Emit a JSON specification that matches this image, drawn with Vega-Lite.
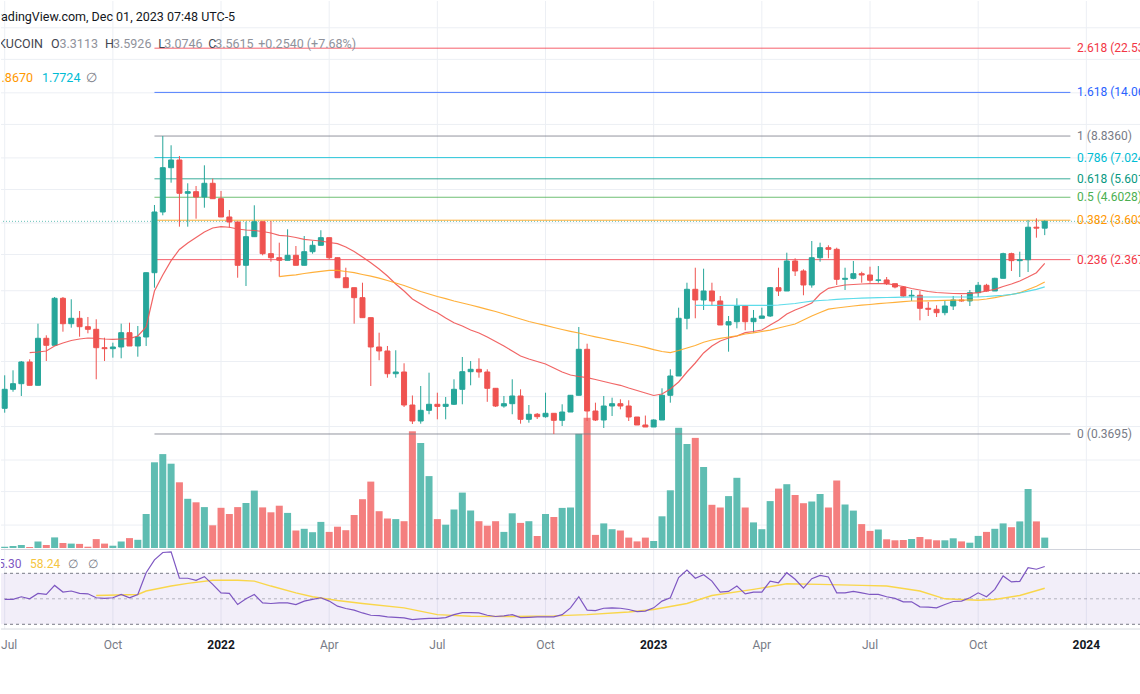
{
"$schema":"https://vega.github.io/schema/vega-lite/v6.json",
"width":1140,"height":628,"padding":0,"autosize":{"type":"pad"},"background":"#ffffff",
"config":{"view":{"stroke":null},"font":"Roboto"},
"datasets":{
"bars":[
{"d":"2021-07-05","o":0.4858,"h":0.6906,"l":0.4636,"c":0.5948,"v":13,"rsi":49.5},
{"d":"2021-07-12","o":0.5948,"h":0.7283,"l":0.5798,"c":0.6315,"v":20,"rsi":49.5},
{"d":"2021-07-19","o":0.6315,"h":0.8043,"l":0.5539,"c":0.7958,"v":30,"rsi":51.6},
{"d":"2021-07-26","o":0.7958,"h":0.819,"l":0.6207,"c":0.6207,"v":10,"rsi":50,"ma1":0.8787},
{"d":"2021-08-02","o":0.6207,"h":1.1967,"l":0.6207,"c":1.0243,"v":65,"rsi":54.2,"ma1":0.8852},
{"d":"2021-08-09","o":1.0243,"h":1.0576,"l":0.8043,"c":0.9507,"v":30,"rsi":53.4,"ma1":0.8947},
{"d":"2021-08-16","o":0.9507,"h":1.5906,"l":0.9507,"c":1.5687,"v":106,"rsi":60.5,"ma1":0.9437},
{"d":"2021-08-23","o":1.5687,"h":1.5906,"l":1.0989,"c":1.1967,"v":51,"rsi":55.3,"ma1":0.9743},
{"d":"2021-08-30","o":1.1967,"h":1.5521,"l":1.1467,"c":1.2676,"v":44,"rsi":56.1,"ma1":1.0006},
{"d":"2021-09-06","o":1.2676,"h":1.3701,"l":1.042,"c":1.1591,"v":41,"rsi":54.2,"ma1":1.0167},
{"d":"2021-09-13","o":1.1591,"h":1.2852,"l":1.0803,"c":1.1273,"v":13,"rsi":53.9,"ma1":1.0276},
{"d":"2021-09-20","o":1.1273,"h":1.2541,"l":0.6618,"c":0.9267,"v":89,"rsi":50.8,"ma1":1.0243,"rsima":52.6},
{"d":"2021-09-27","o":0.9267,"h":1.0309,"l":0.8043,"c":0.917,"v":44,"rsi":50.3,"ma1":1.0167},
{"d":"2021-10-04","o":0.917,"h":0.9775,"l":0.8331,"c":0.9337,"v":23,"rsi":50.8,"ma1":1.0134},
{"d":"2021-10-11","o":0.9337,"h":1.1967,"l":0.8278,"c":1.0873,"v":65,"rsi":53.4,"ma1":1.0167},
{"d":"2021-10-18","o":1.0873,"h":1.2096,"l":0.9437,"c":0.9437,"v":99,"rsi":50.8,"ma1":1.02},
{"d":"2021-10-25","o":0.9437,"h":1.1677,"l":0.842,"c":1.0386,"v":82,"rsi":53.4,"ma1":1.0497,"rsima":53.4},
{"d":"2021-11-01","o":1.0386,"h":2.0606,"l":0.9437,"c":2.0606,"v":340,"rsi":70.5,"ma1":1.1553,"rsima":56.1},
{"d":"2021-11-08","o":2.0606,"h":4.2385,"l":1.7561,"c":3.934,"v":857,"rsi":80.5,"ma1":1.6955},
{"d":"2021-11-15","o":3.934,"h":8.836,"l":3.798,"c":6.307,"v":939,"rsi":86.3,"ma1":2.0105},
{"d":"2021-11-22","o":6.307,"h":8.008,"l":5.376,"c":6.846,"v":843,"rsi":86.8,"ma1":2.3428,"rsima":60},
{"d":"2021-11-29","o":6.846,"h":7.144,"l":3.364,"c":4.802,"v":657,"rsi":66.1,"ma1":2.6386},
{"d":"2021-12-06","o":4.802,"h":5.341,"l":3.364,"c":4.884,"v":492,"rsi":66.1,"ma1":2.8274,"rsima":62.1},
{"d":"2021-12-13","o":4.884,"h":5.19,"l":3.663,"c":4.616,"v":457,"rsi":64.5,"ma1":2.998},
{"d":"2021-12-20","o":4.616,"h":6.47,"l":4.118,"c":5.341,"v":409,"rsi":67.4,"ma1":3.1791},
{"d":"2021-12-27","o":5.341,"h":5.61,"l":4.533,"c":4.533,"v":227,"rsi":61.3,"ma1":3.3175,"rsima":64.5},
{"d":"2022-01-03","o":4.533,"h":4.921,"l":3.73,"c":3.73,"v":402,"rsi":54.7,"ma1":3.364},
{"d":"2022-01-10","o":3.73,"h":4.019,"l":3.328,"c":3.536,"v":340,"rsi":54.2,"ma1":3.343},
{"d":"2022-01-17","o":3.536,"h":3.547,"l":1.953,"c":2.2295,"v":409,"rsi":45.5,"ma1":3.2824,"rsima":64.5},
{"d":"2022-01-24","o":2.2295,"h":3.547,"l":1.788,"c":3.024,"v":450,"rsi":50,"ma1":3.2475},
{"d":"2022-01-31","o":3.024,"h":4.225,"l":3.024,"c":3.547,"v":574,"rsi":53.4,"ma1":3.2303,"rsima":63.9},
{"d":"2022-02-07","o":3.547,"h":3.547,"l":2.48,"c":2.523,"v":406,"rsi":46.8,"ma1":3.196},
{"d":"2022-02-14","o":2.523,"h":3.574,"l":2.317,"c":2.417,"v":357,"rsi":46.3,"ma1":3.1454,"rsima":60},
{"d":"2022-02-21","o":2.417,"h":2.837,"l":1.974,"c":2.352,"v":423,"rsi":46.8,"ma1":3.069,"ma2":1.974},
{"d":"2022-02-28","o":2.352,"h":3.272,"l":2.352,"c":2.48,"v":351,"rsi":46.8,"ma1":3.046,"ma2":1.9955},
{"d":"2022-03-07","o":2.48,"h":2.738,"l":2.2295,"c":2.2295,"v":175,"rsi":45.5,"ma1":2.998,"ma2":2.0148,"rsima":54.7},
{"d":"2022-03-14","o":2.2295,"h":3.046,"l":2.2295,"c":2.577,"v":192,"rsi":48.2,"ma1":2.941,"ma2":2.043},
{"d":"2022-03-21","o":2.577,"h":2.888,"l":2.523,"c":2.759,"v":158,"rsi":49.5,"ma1":2.912,"ma2":2.0671,"rsima":51.6},
{"d":"2022-03-28","o":2.759,"h":3.238,"l":2.759,"c":2.992,"v":261,"rsi":50.8,"ma1":2.888,"ma2":2.0914},
{"d":"2022-04-04","o":2.992,"h":2.992,"l":2.376,"c":2.417,"v":161,"rsi":48.2,"ma1":2.843,"ma2":2.1136},
{"d":"2022-04-11","o":2.417,"h":2.417,"l":1.953,"c":1.953,"v":213,"rsi":44.2,"ma1":2.806,"ma2":2.1136,"rsima":48.7},
{"d":"2022-04-18","o":1.953,"h":2.173,"l":1.756,"c":1.756,"v":178,"rsi":42.4,"ma1":2.7094,"ma2":2.0869},
{"d":"2022-04-25","o":1.756,"h":1.756,"l":1.197,"c":1.579,"v":330,"rsi":41.1,"ma1":2.5825,"ma2":2.0606},
{"d":"2022-05-02","o":1.579,"h":1.852,"l":1.276,"c":1.276,"v":488,"rsi":38.9,"ma1":2.4355,"ma2":2.0213,"rsima":46.3},
{"d":"2022-05-09","o":1.276,"h":1.276,"l":0.6161,"c":0.9337,"v":664,"rsi":37.1,"ma1":2.292,"ma2":1.9848},
{"d":"2022-05-16","o":0.9337,"h":1.0873,"l":0.8104,"c":0.8947,"v":368,"rsi":36.8,"ma1":2.1433,"ma2":1.9452},
{"d":"2022-05-23","o":0.8947,"h":0.9437,"l":0.6732,"c":0.7024,"v":295,"rsi":35.8,"ma1":1.9892,"ma2":1.8962},
{"d":"2022-05-30","o":0.7024,"h":0.9016,"l":0.6732,"c":0.7153,"v":289,"rsi":35.5,"ma1":1.8267,"ma2":1.8463},
{"d":"2022-06-06","o":0.7153,"h":0.7848,"l":0.4926,"c":0.5032,"v":268,"rsi":35,"ma1":1.6955,"ma2":1.7979,"rsima":42.9},
{"d":"2022-06-13","o":0.5032,"h":0.557,"l":0.411,"c":0.4243,"v":1167,"rsi":33.7,"ma1":1.5571,"ma2":1.7411},
{"d":"2022-06-20","o":0.4243,"h":0.6161,"l":0.4124,"c":0.4755,"v":1050,"rsi":34.2,"ma1":1.4763,"ma2":1.6862},
{"d":"2022-06-27","o":0.4755,"h":0.71,"l":0.456,"c":0.5071,"v":719,"rsi":34.7,"ma1":1.3996,"ma2":1.6421},
{"d":"2022-07-04","o":0.5071,"h":0.5737,"l":0.4321,"c":0.4959,"v":289,"rsi":34.7,"ma1":1.3456,"ma2":1.5991,"rsima":37.6},
{"d":"2022-07-11","o":0.4959,"h":0.5481,"l":0.4321,"c":0.5071,"v":233,"rsi":35.3,"ma1":1.2716,"ma2":1.5622},
{"d":"2022-07-18","o":0.5071,"h":0.6618,"l":0.5032,"c":0.5948,"v":385,"rsi":37.6,"ma1":1.2096,"ma2":1.5243},
{"d":"2022-07-25","o":0.5948,"h":0.8393,"l":0.5071,"c":0.7176,"v":554,"rsi":39.2,"ma1":1.1677,"ma2":1.4921},
{"d":"2022-08-01","o":0.7176,"h":0.8043,"l":0.6207,"c":0.7361,"v":375,"rsi":39.2,"ma1":1.119,"ma2":1.4608,"rsima":36.3},
{"d":"2022-08-08","o":0.7361,"h":0.8278,"l":0.6732,"c":0.7153,"v":268,"rsi":38.9,"ma1":1.0838,"ma2":1.4271},
{"d":"2022-08-15","o":0.7153,"h":0.7361,"l":0.5206,"c":0.6012,"v":223,"rsi":37.1,"ma1":1.0386,"ma2":1.3951},
{"d":"2022-08-22","o":0.6012,"h":0.6012,"l":0.4926,"c":0.4979,"v":268,"rsi":36.1,"ma1":0.9903,"ma2":1.3627},
{"d":"2022-08-29","o":0.4979,"h":0.5539,"l":0.489,"c":0.5103,"v":161,"rsi":36.6,"ma1":0.9437,"ma2":1.327},
{"d":"2022-09-05","o":0.5103,"h":0.6618,"l":0.456,"c":0.5539,"v":347,"rsi":37.6,"ma1":0.8947,"ma2":1.2922,"rsima":36.1},
{"d":"2022-09-12","o":0.5539,"h":0.5948,"l":0.4124,"c":0.4321,"v":251,"rsi":35.3,"ma1":0.8483,"ma2":1.2582},
{"d":"2022-09-19","o":0.4321,"h":0.5032,"l":0.4168,"c":0.456,"v":268,"rsi":35.5,"ma1":0.8216,"ma2":1.2251},
{"d":"2022-09-26","o":0.456,"h":0.4621,"l":0.4335,"c":0.4443,"v":120,"rsi":35.8,"ma1":0.7999,"ma2":1.1993},
{"d":"2022-10-03","o":0.4443,"h":0.5737,"l":0.4395,"c":0.4606,"v":340,"rsi":35.8,"ma1":0.779,"ma2":1.1746},
{"d":"2022-10-10","o":0.4606,"h":0.4606,"l":0.3695,"c":0.4275,"v":310,"rsi":35.8,"ma1":0.7464,"ma2":1.1492,"rsima":36.6},
{"d":"2022-10-17","o":0.4275,"h":0.5071,"l":0.4024,"c":0.467,"v":401,"rsi":37.6,"ma1":0.7153,"ma2":1.1251},
{"d":"2022-10-24","o":0.467,"h":0.5581,"l":0.467,"c":0.5581,"v":405,"rsi":42.9,"ma1":0.6928,"ma2":1.1036},
{"d":"2022-10-31","o":0.5581,"h":1.1553,"l":0.5581,"c":0.9111,"v":1142,"rsi":51.6,"ma1":0.6819,"ma2":1.0838},
{"d":"2022-11-07","o":0.9111,"h":0.9671,"l":0.4243,"c":0.472,"v":1303,"rsi":41.1,"ma1":0.6732,"ma2":1.0609,"rsima":37.6},
{"d":"2022-11-14","o":0.472,"h":0.5158,"l":0.4243,"c":0.4289,"v":131,"rsi":40.8,"ma1":0.6605,"ma2":1.0408},
{"d":"2022-11-21","o":0.4289,"h":0.5539,"l":0.3939,"c":0.4979,"v":246,"rsi":42.6,"ma1":0.6464,"ma2":1.0222},
{"d":"2022-11-28","o":0.4979,"h":0.544,"l":0.4476,"c":0.5103,"v":188,"rsi":42.9,"ma1":0.6329,"ma2":1.0027},
{"d":"2022-12-05","o":0.5103,"h":0.5348,"l":0.4806,"c":0.4979,"v":175,"rsi":42.6,"ma1":0.6208,"ma2":0.9848},
{"d":"2022-12-12","o":0.4979,"h":0.5292,"l":0.4243,"c":0.4428,"v":104,"rsi":41.6,"ma1":0.6031,"ma2":0.9661,"rsima":39.7},
{"d":"2022-12-19","o":0.4428,"h":0.4428,"l":0.4067,"c":0.4067,"v":66,"rsi":40,"ma1":0.5873,"ma2":0.9489},
{"d":"2022-12-26","o":0.4067,"h":0.4497,"l":0.3981,"c":0.3981,"v":104,"rsi":40.3,"ma1":0.5719,"ma2":0.9306},
{"d":"2023-01-02","o":0.3981,"h":0.4321,"l":0.3981,"c":0.4289,"v":70,"rsi":42.9,"ma1":0.557,"ma2":0.9085,"rsima":41.6},
{"d":"2023-01-09","o":0.4289,"h":0.6012,"l":0.4289,"c":0.5581,"v":317,"rsi":48.2,"ma1":0.5658,"ma2":0.89},
{"d":"2023-01-16","o":0.5581,"h":0.7361,"l":0.5158,"c":0.6855,"v":577,"rsi":50.8,"ma1":0.5968,"ma2":0.8787},
{"d":"2023-01-23","o":0.6855,"h":1.4191,"l":0.6855,"c":1.2676,"v":1202,"rsi":66.6,"ma1":0.6431,"ma2":0.8994},
{"d":"2023-01-30","o":1.2676,"h":1.852,"l":1.1273,"c":1.7263,"v":1040,"rsi":72.6,"ma1":0.7153,"ma2":0.9238,"rsima":46.3},
{"d":"2023-02-06","o":1.7263,"h":2.173,"l":1.2676,"c":1.5407,"v":1101,"rsi":66.1,"ma1":0.7873,"ma2":0.9489,"ma3":1.456},
{"d":"2023-02-13","o":1.5407,"h":2.1503,"l":1.3847,"c":1.6955,"v":810,"rsi":68.9,"ma1":0.8759,"ma2":0.9818,"ma3":1.456},
{"d":"2023-02-20","o":1.6955,"h":1.852,"l":1.445,"c":1.5243,"v":432,"rsi":63.9,"ma1":0.9437,"ma2":1.0061,"ma3":1.456,"rsima":52.6},
{"d":"2023-02-27","o":1.5243,"h":1.6076,"l":1.1802,"c":1.1802,"v":405,"rsi":55.3,"ma1":0.9953,"ma2":1.0243,"ma3":1.456},
{"d":"2023-03-06","o":1.1802,"h":1.299,"l":0.8881,"c":1.2223,"v":519,"rsi":55.8,"ma1":1.0276,"ma2":1.0386,"ma3":1.456},
{"d":"2023-03-13","o":1.2223,"h":1.5687,"l":1.1394,"c":1.445,"v":702,"rsi":60,"ma1":1.0499,"ma2":1.052,"ma3":1.456},
{"d":"2023-03-20","o":1.445,"h":1.445,"l":1.1157,"c":1.2223,"v":405,"rsi":53.9,"ma1":1.0873,"ma2":1.0723,"ma3":1.456},
{"d":"2023-03-27","o":1.2223,"h":1.3847,"l":1.0873,"c":1.2676,"v":256,"rsi":55.3,"ma1":1.1013,"ma2":1.0862,"ma3":1.456,"rsima":57.4},
{"d":"2023-04-03","o":1.2676,"h":1.4191,"l":1.2676,"c":1.299,"v":188,"rsi":55.3,"ma1":1.119,"ma2":1.1013,"ma3":1.456},
{"d":"2023-04-10","o":1.299,"h":1.7692,"l":1.2852,"c":1.7561,"v":469,"rsi":63.9,"ma1":1.1802,"ma2":1.1167,"ma3":1.456},
{"d":"2023-04-17","o":1.7561,"h":2.173,"l":1.6076,"c":1.6955,"v":594,"rsi":62.6,"ma1":1.2405,"ma2":1.143,"ma3":1.4608},
{"d":"2023-04-24","o":1.6955,"h":2.55,"l":1.6955,"c":2.3339,"v":638,"rsi":70.5,"ma1":1.327,"ma2":1.1677,"ma3":1.4721,"rsima":61.8},
{"d":"2023-05-01","o":2.3339,"h":2.402,"l":1.9892,"c":2.0981,"v":530,"rsi":65.3,"ma1":1.3847,"ma2":1.1929,"ma3":1.4842},
{"d":"2023-05-08","o":2.0981,"h":2.1363,"l":1.62,"c":1.8073,"v":448,"rsi":58.4,"ma1":1.4344,"ma2":1.2444,"ma3":1.5034},
{"d":"2023-05-15","o":1.8073,"h":2.888,"l":1.7561,"c":2.417,"v":465,"rsi":65.8,"ma1":1.4921,"ma2":1.299,"ma3":1.5211},
{"d":"2023-05-22","o":2.417,"h":2.837,"l":2.317,"c":2.6894,"v":540,"rsi":68.4,"ma1":1.6421,"ma2":1.3484,"ma3":1.5324,"rsima":61.3},
{"d":"2023-05-29","o":2.6894,"h":2.759,"l":2.402,"c":2.6438,"v":405,"rsi":67.1,"ma1":1.7449,"ma2":1.3966,"ma3":1.5406},
{"d":"2023-06-05","o":2.6438,"h":2.6894,"l":1.8073,"c":1.9204,"v":675,"rsi":54.7,"ma1":1.7787,"ma2":1.4146,"ma3":1.5521},
{"d":"2023-06-12","o":1.9204,"h":2.173,"l":1.7137,"c":1.941,"v":435,"rsi":54.7,"ma1":1.8073,"ma2":1.4297,"ma3":1.5605},
{"d":"2023-06-19","o":1.941,"h":2.334,"l":1.92,"c":2.0386,"v":374,"rsi":55.8,"ma1":1.817,"ma2":1.445,"ma3":1.5655},
{"d":"2023-06-26","o":2.0386,"h":2.0822,"l":1.852,"c":2.0105,"v":239,"rsi":54.7,"ma1":1.8267,"ma2":1.4574,"ma3":1.5706,"rsima":60.5},
{"d":"2023-07-03","o":2.0105,"h":2.1965,"l":1.852,"c":1.901,"v":171,"rsi":53.4,"ma1":1.8326,"ma2":1.4684,"ma3":1.5756},
{"d":"2023-07-10","o":1.901,"h":2.2123,"l":1.852,"c":1.907,"v":185,"rsi":53.4,"ma1":1.8326,"ma2":1.4812,"ma3":1.5788},
{"d":"2023-07-17","o":1.907,"h":1.968,"l":1.8073,"c":1.8326,"v":87,"rsi":51.6,"ma1":1.8326,"ma2":1.4921,"ma3":1.5822,"rsima":60},
{"d":"2023-07-24","o":1.8326,"h":1.8326,"l":1.7449,"c":1.7692,"v":77,"rsi":50.3,"ma1":1.8073,"ma2":1.5018,"ma3":1.5839},
{"d":"2023-07-31","o":1.7692,"h":1.788,"l":1.5906,"c":1.6076,"v":80,"rsi":47.6,"ma1":1.7787,"ma2":1.513,"ma3":1.5873},
{"d":"2023-08-07","o":1.6076,"h":1.7137,"l":1.5243,"c":1.62,"v":90,"rsi":47.6,"ma1":1.7411,"ma2":1.5243,"ma3":1.5906},
{"d":"2023-08-14","o":1.62,"h":1.6955,"l":1.2405,"c":1.4101,"v":110,"rsi":43.7,"ma1":1.7137,"ma2":1.5243,"ma3":1.5906,"rsima":56.1},
{"d":"2023-08-21","o":1.4101,"h":1.5081,"l":1.299,"c":1.3951,"v":87,"rsi":43.4,"ma1":1.6862,"ma2":1.5276,"ma3":1.5906},
{"d":"2023-08-28","o":1.3951,"h":1.4559,"l":1.2852,"c":1.3456,"v":77,"rsi":42.9,"ma1":1.6686,"ma2":1.5308,"ma3":1.5906},
{"d":"2023-09-04","o":1.3456,"h":1.5243,"l":1.3087,"c":1.445,"v":77,"rsi":45.5,"ma1":1.6597,"ma2":1.5341,"ma3":1.5906,"rsima":50},
{"d":"2023-09-11","o":1.445,"h":1.6076,"l":1.3847,"c":1.5406,"v":97,"rsi":47.9,"ma1":1.6509,"ma2":1.5373,"ma3":1.5906},
{"d":"2023-09-18","o":1.5406,"h":1.6248,"l":1.513,"c":1.5243,"v":66,"rsi":48.2,"ma1":1.6474,"ma2":1.539,"ma3":1.5906},
{"d":"2023-09-25","o":1.5243,"h":1.7137,"l":1.445,"c":1.6651,"v":53,"rsi":50.8,"ma1":1.6544,"ma2":1.5406,"ma3":1.5906},
{"d":"2023-10-02","o":1.6651,"h":1.866,"l":1.5906,"c":1.8017,"v":121,"rsi":54.7,"ma1":1.6651,"ma2":1.5406,"ma3":1.5906,"rsima":48.9},
{"d":"2023-10-09","o":1.8017,"h":1.83,"l":1.683,"c":1.6955,"v":161,"rsi":51.6,"ma1":1.6955,"ma2":1.5571,"ma3":1.5991},
{"d":"2023-10-16","o":1.6955,"h":1.953,"l":1.6955,"c":1.941,"v":192,"rsi":57.4,"ma1":1.7263,"ma2":1.5788,"ma3":1.6111,"rsima":49.5},
{"d":"2023-10-23","o":1.941,"h":2.55,"l":1.941,"c":2.523,"v":246,"rsi":67.9,"ma1":1.7787,"ma2":1.6076,"ma3":1.62},
{"d":"2023-10-30","o":2.523,"h":2.55,"l":2.0981,"c":2.3428,"v":208,"rsi":63.2,"ma1":1.8267,"ma2":1.6335,"ma3":1.637},
{"d":"2023-11-06","o":2.3428,"h":2.577,"l":1.968,"c":2.3657,"v":266,"rsi":63.7,"ma1":1.886,"ma2":1.6651,"ma3":1.6597,"rsima":52.6},
{"d":"2023-11-13","o":2.3657,"h":3.6064,"l":2.0758,"c":3.345,"v":590,"rsi":74.5,"ma1":1.968,"ma2":1.7227,"ma3":1.6918},
{"d":"2023-11-20","o":3.345,"h":3.6786,"l":2.992,"c":3.3113,"v":266,"rsi":73.2,"ma1":2.0606,"ma2":1.7844,"ma3":1.7263},
{"d":"2023-11-27","o":3.3113,"h":3.5926,"l":3.0746,"c":3.5615,"v":104,"rsi":75.3,"ma1":2.2775,"ma2":1.867,"ma3":1.7724,"rsima":58.24}
],
"fibs":[
{"lvl":"0","p":0.3695,"t":"0 (0.3695)"},
{"lvl":"0.236","p":2.3676,"t":"0.236 (2.3676)"},
{"lvl":"0.382","p":3.6037,"t":"0.382 (3.6037)"},
{"lvl":"0.5","p":4.6028,"t":"0.5 (4.6028)"},
{"lvl":"0.618","p":5.6018,"t":"0.618 (5.6018)"},
{"lvl":"0.786","p":7.0242,"t":"0.786 (7.0242)"},
{"lvl":"1","p":8.836,"t":"1 (8.8360)"},
{"lvl":"1.618","p":14.0683,"t":"1.618 (14.0683)"},
{"lvl":"2.618","p":22.5348,"t":"2.618 (22.5348)"}
],
"xgrid":[{"d":"2021-07-05"},{"d":"2021-10-04"},{"d":"2022-01-03"},{"d":"2022-04-04"},{"d":"2022-07-04"},{"d":"2022-10-03"},{"d":"2023-01-02"},{"d":"2023-04-03"},{"d":"2023-07-03"},{"d":"2023-10-02"},{"d":"2024-01-01"}],
"months":[{"d":"2021-10-04","t":"Oct"},{"d":"2022-04-04","t":"Apr"},{"d":"2022-07-04","t":"Jul"},{"d":"2022-10-03","t":"Oct"},{"d":"2023-04-03","t":"Apr"},{"d":"2023-07-03","t":"Jul"},{"d":"2023-10-02","t":"Oct"}],
"years":[{"d":"2022-01-03","t":"2022"},{"d":"2023-01-02","t":"2023"},{"d":"2024-01-01","t":"2024"}],
"pgrid":[{"p":0.14},{"p":0.2},{"p":0.28},{"p":0.4},{"p":0.55},{"p":0.8},{"p":1.2},{"p":1.7},{"p":2.5},{"p":3.5},{"p":5},{"p":7},{"p":10},{"p":14},{"p":20},{"p":28}]
},
"layer":[
{"layer":[
 {"data":{"name":"xgrid"},"mark":{"type":"rule","color":"#eceff4","strokeWidth":1},
  "encoding":{"x":{"field":"d","type":"temporal","scale":{"type":"utc","padding":0,"domain":[{"year":2021,"month":7,"date":1,"hours":21,"minutes":20,"utc":true},{"year":2024,"month":2,"date":15,"hours":23,"minutes":46,"utc":true}]},"axis":null}}},
 {"data":{"name":"pgrid"},"mark":{"type":"rule","color":"#eceff4","strokeWidth":1},
  "encoding":{"y":{"field":"p","type":"quantitative","scale":{"type":"log","domain":[0.10851,37.25],"range":[548,0],"nice":false,"zero":false},"axis":null}}}
]},
{"data":{"name":"bars"},"mark":{"type":"bar","size":7},
 "encoding":{
  "x":{"field":"d","type":"temporal","scale":{"type":"utc","padding":0,"domain":[{"year":2021,"month":7,"date":1,"hours":21,"minutes":20,"utc":true},{"year":2024,"month":2,"date":15,"hours":23,"minutes":46,"utc":true}]},"axis":null},
  "y":{"field":"v","type":"quantitative","scale":{"domain":[0,5470],"range":[547,0],"nice":false,"zero":true},"axis":null},
  "color":{"condition":{"test":"datum.c >= datum.o","value":"#5fbdb2"},"value":"#f47f7f"}
 }},
{"layer":[
 {"data":{"name":"fibs"},"mark":{"type":"rule","strokeWidth":1,"opacity":0.8},
  "encoding":{
   "x":{"datum":{"year":2021,"month":11,"date":8,"utc":true},"type":"temporal","scale":{"type":"utc","padding":0,"domain":[{"year":2021,"month":7,"date":1,"hours":21,"minutes":20,"utc":true},{"year":2024,"month":2,"date":15,"hours":23,"minutes":46,"utc":true}]},"axis":null},
   "x2":{"datum":{"year":2023,"month":12,"date":18,"hours":14,"utc":true}},
   "y":{"field":"p","type":"quantitative","scale":{"type":"log","domain":[0.10851,37.25],"range":[548,0],"nice":false,"zero":false},"axis":null},
   "color":{"field":"lvl","type":"nominal","scale":{"domain":["0","0.236","0.382","0.5","0.618","0.786","1","1.618","2.618"],"range":["#787b86","#f23645","#ff9800","#4caf50","#089981","#00bcd4","#787b86","#2962ff","#f23645"]},"legend":null}
  }},
 {"data":{"values":[{}]},"mark":{"type":"rule","strokeWidth":1,"strokeDash":[1,2],"color":"#26a69a","opacity":0.7},
  "encoding":{"y":{"datum":3.5615,"type":"quantitative","scale":{"type":"log","domain":[0.10851,37.25],"range":[548,0],"nice":false,"zero":false},"axis":null}}},
 {"data":{"name":"bars"},"mark":{"type":"rule","strokeWidth":1},
  "encoding":{
   "x":{"field":"d","type":"temporal","scale":{"type":"utc","padding":0,"domain":[{"year":2021,"month":7,"date":1,"hours":21,"minutes":20,"utc":true},{"year":2024,"month":2,"date":15,"hours":23,"minutes":46,"utc":true}]},"axis":null},
   "y":{"field":"l","type":"quantitative","scale":{"type":"log","domain":[0.10851,37.25],"range":[548,0],"nice":false,"zero":false},"axis":null},
   "y2":{"field":"h"},
   "color":{"condition":{"test":"datum.c >= datum.o","value":"#26a69a"},"value":"#ef5350"}
  }},
 {"data":{"name":"bars"},"mark":{"type":"bar","size":5,"strokeWidth":1},
  "encoding":{
   "x":{"field":"d","type":"temporal","scale":{"type":"utc","padding":0,"domain":[{"year":2021,"month":7,"date":1,"hours":21,"minutes":20,"utc":true},{"year":2024,"month":2,"date":15,"hours":23,"minutes":46,"utc":true}]},"axis":null},
   "y":{"field":"o","type":"quantitative","scale":{"type":"log","domain":[0.10851,37.25],"range":[548,0],"nice":false,"zero":false},"axis":null},
   "y2":{"field":"c"},
   "color":{"condition":{"test":"datum.c >= datum.o","value":"#26a69a"},"value":"#ef5350"},
   "stroke":{"condition":{"test":"datum.c >= datum.o","value":"#26a69a"},"value":"#ef5350"}
  }},
 {"data":{"name":"bars"},"mark":{"type":"line","strokeWidth":1.2,"color":"#f05454","opacity":0.9,"invalid":"filter"},
  "encoding":{
   "x":{"field":"d","type":"temporal","scale":{"type":"utc","padding":0,"domain":[{"year":2021,"month":7,"date":1,"hours":21,"minutes":20,"utc":true},{"year":2024,"month":2,"date":15,"hours":23,"minutes":46,"utc":true}]},"axis":null},
   "y":{"field":"ma1","type":"quantitative","scale":{"type":"log","domain":[0.10851,37.25],"range":[548,0],"nice":false,"zero":false},"axis":null}}},
 {"data":{"name":"bars"},"mark":{"type":"line","strokeWidth":1.2,"color":"#ffa726","opacity":0.9,"invalid":"filter"},
  "encoding":{
   "x":{"field":"d","type":"temporal","scale":{"type":"utc","padding":0,"domain":[{"year":2021,"month":7,"date":1,"hours":21,"minutes":20,"utc":true},{"year":2024,"month":2,"date":15,"hours":23,"minutes":46,"utc":true}]},"axis":null},
   "y":{"field":"ma2","type":"quantitative","scale":{"type":"log","domain":[0.10851,37.25],"range":[548,0],"nice":false,"zero":false},"axis":null}}},
 {"data":{"name":"bars"},"mark":{"type":"line","strokeWidth":1.2,"color":"#4dd8e8","opacity":0.9,"invalid":"filter"},
  "encoding":{
   "x":{"field":"d","type":"temporal","scale":{"type":"utc","padding":0,"domain":[{"year":2021,"month":7,"date":1,"hours":21,"minutes":20,"utc":true},{"year":2024,"month":2,"date":15,"hours":23,"minutes":46,"utc":true}]},"axis":null},
   "y":{"field":"ma3","type":"quantitative","scale":{"type":"log","domain":[0.10851,37.25],"range":[548,0],"nice":false,"zero":false},"axis":null}}},
 {"data":{"name":"fibs"},"mark":{"type":"text","align":"left","baseline":"middle","fontSize":12,"clip":true},
  "encoding":{
   "x":{"datum":{"year":2023,"month":12,"date":24,"hours":6,"utc":true},"type":"temporal","scale":{"type":"utc","padding":0,"domain":[{"year":2021,"month":7,"date":1,"hours":21,"minutes":20,"utc":true},{"year":2024,"month":2,"date":15,"hours":23,"minutes":46,"utc":true}]},"axis":null},
   "y":{"field":"p","type":"quantitative","scale":{"type":"log","domain":[0.10851,37.25],"range":[548,0],"nice":false,"zero":false},"axis":null},
   "text":{"field":"t"},
   "color":{"field":"lvl","type":"nominal","scale":{"domain":["0","0.236","0.382","0.5","0.618","0.786","1","1.618","2.618"],"range":["#787b86","#f23645","#ff9800","#4caf50","#089981","#00bcd4","#787b86","#2962ff","#f23645"]},"legend":null}
  }},
 {"data":{"values":[{}]},"mark":{"type":"text","align":"right","baseline":"middle","fontSize":12.5,"color":"#131722","clip":true,"text":"TradingView.com, Dec 01, 2023 07:48 UTC-5"},
  "encoding":{"x":{"datum":{"year":2022,"month":1,"date":14,"hours":21,"minutes":20,"utc":true},"type":"temporal","axis":null},"y":{"datum":31.41,"type":"quantitative","axis":null}}},
 {"data":{"values":[{}]},"mark":{"type":"text","align":"right","baseline":"middle","fontSize":12.5,"color":"#434651","clip":true,"text":"KuCoin Token / TetherUS · 1W · KUCOIN"},
  "encoding":{"x":{"datum":{"year":2021,"month":8,"date":6,"hours":5,"minutes":30,"utc":true},"type":"temporal","axis":null},"y":{"datum":23.56,"type":"quantitative","axis":null}}},
 {"data":{"values":[{}]},"mark":{"type":"text","align":"left","baseline":"middle","fontSize":12.5,"color":"#434651","clip":true,"text":"O"},
  "encoding":{"x":{"datum":{"year":2021,"month":8,"date":12,"hours":23,"utc":true},"type":"temporal","axis":null},"y":{"datum":23.56,"type":"quantitative","axis":null}}},
 {"data":{"values":[{}]},"mark":{"type":"text","align":"left","baseline":"middle","fontSize":12.5,"color":"#8f929b","clip":true,"text":"3.3113"},
  "encoding":{"x":{"datum":{"year":2021,"month":8,"date":20,"hours":2,"minutes":40,"utc":true},"type":"temporal","axis":null},"y":{"datum":23.56,"type":"quantitative","axis":null}}},
 {"data":{"values":[{}]},"mark":{"type":"text","align":"left","baseline":"middle","fontSize":12.5,"color":"#434651","clip":true,"text":"H"},
  "encoding":{"x":{"datum":{"year":2021,"month":9,"date":27,"hours":9,"minutes":20,"utc":true},"type":"temporal","axis":null},"y":{"datum":23.56,"type":"quantitative","axis":null}}},
 {"data":{"values":[{}]},"mark":{"type":"text","align":"left","baseline":"middle","fontSize":12.5,"color":"#8f929b","clip":true,"text":"3.5926"},
  "encoding":{"x":{"datum":{"year":2021,"month":10,"date":4,"hours":2,"minutes":50,"utc":true},"type":"temporal","axis":null},"y":{"datum":23.56,"type":"quantitative","axis":null}}},
 {"data":{"values":[{}]},"mark":{"type":"text","align":"left","baseline":"middle","fontSize":12.5,"color":"#434651","clip":true,"text":"L"},
  "encoding":{"x":{"datum":{"year":2021,"month":11,"date":11,"hours":3,"minutes":20,"utc":true},"type":"temporal","axis":null},"y":{"datum":23.56,"type":"quantitative","axis":null}}},
 {"data":{"values":[{}]},"mark":{"type":"text","align":"left","baseline":"middle","fontSize":12.5,"color":"#8f929b","clip":true,"text":"3.0746"},
  "encoding":{"x":{"datum":{"year":2021,"month":11,"date":16,"hours":4,"minutes":30,"utc":true},"type":"temporal","axis":null},"y":{"datum":23.56,"type":"quantitative","axis":null}}},
 {"data":{"values":[{}]},"mark":{"type":"text","align":"left","baseline":"middle","fontSize":12.5,"color":"#434651","clip":true,"text":"C"},
  "encoding":{"x":{"datum":{"year":2021,"month":12,"date":23,"hours":5,"utc":true},"type":"temporal","axis":null},"y":{"datum":23.56,"type":"quantitative","axis":null}}},
 {"data":{"values":[{}]},"mark":{"type":"text","align":"left","baseline":"middle","fontSize":12.5,"color":"#8f929b","clip":true,"text":"3.5615"},
  "encoding":{"x":{"datum":{"year":2021,"month":12,"date":29,"hours":2,"minutes":10,"utc":true},"type":"temporal","axis":null},"y":{"datum":23.56,"type":"quantitative","axis":null}}},
 {"data":{"values":[{}]},"mark":{"type":"text","align":"left","baseline":"middle","fontSize":12.5,"color":"#8f929b","clip":true,"text":"+0.2540 (+7.68%)"},
  "encoding":{"x":{"datum":{"year":2022,"month":2,"date":3,"hours":6,"minutes":40,"utc":true},"type":"temporal","axis":null},"y":{"datum":23.56,"type":"quantitative","axis":null}}},
 {"data":{"values":[{}]},"mark":{"type":"text","align":"right","baseline":"middle","fontSize":12.5,"color":"#ff9800","clip":true,"text":"2.2775 1.8670"},
  "encoding":{"x":{"datum":{"year":2021,"month":7,"date":28,"hours":19,"utc":true},"type":"temporal","axis":null},"y":{"datum":16.4,"type":"quantitative","axis":null}}},
 {"data":{"values":[{}]},"mark":{"type":"text","align":"left","baseline":"middle","fontSize":12.5,"color":"#00bcd4","clip":true,"text":"1.7724"},
  "encoding":{"x":{"datum":{"year":2021,"month":8,"date":5,"hours":9,"utc":true},"type":"temporal","axis":null},"y":{"datum":16.4,"type":"quantitative","axis":null}}},
 {"data":{"values":[{}]},"mark":{"type":"text","align":"left","baseline":"middle","fontSize":12.5,"color":"#787b86","clip":true,"text":"∅"},
  "encoding":{"x":{"datum":{"year":2021,"month":9,"date":11,"hours":9,"utc":true},"type":"temporal","axis":null},"y":{"datum":16.4,"type":"quantitative","axis":null}}}
]},
{"layer":[
 {"data":{"values":[{}]},"mark":{"type":"rect","color":"#7e57c2","opacity":0.1},
  "encoding":{"y":{"datum":70,"type":"quantitative","scale":{"domain":[26.31,88.67],"range":[628,548.5],"nice":false,"zero":false},"axis":null},"y2":{"datum":30}}},
 {"data":{"values":[{"r":70},{"r":30}]},"mark":{"type":"rule","color":"#787b86","strokeDash":[3,3],"strokeWidth":1},
  "encoding":{"y":{"field":"r","type":"quantitative","scale":{"domain":[26.31,88.67],"range":[628,548.5],"nice":false,"zero":false},"axis":null}}},
 {"data":{"values":[{"r":50}]},"mark":{"type":"rule","color":"#787b86","strokeDash":[3,3],"strokeWidth":1,"opacity":0.5},
  "encoding":{"y":{"field":"r","type":"quantitative","scale":{"domain":[26.31,88.67],"range":[628,548.5],"nice":false,"zero":false},"axis":null}}},
 {"data":{"values":[{"r":88.67}]},"mark":{"type":"rule","color":"#d1d4dc","strokeWidth":1},
  "encoding":{"y":{"field":"r","type":"quantitative","scale":{"domain":[26.31,88.67],"range":[628,548.5],"nice":false,"zero":false},"axis":null}}},
 {"data":{"values":[{"r":26.31}]},"mark":{"type":"rule","color":"#d6d9e0","strokeWidth":1},
  "encoding":{"y":{"field":"r","type":"quantitative","scale":{"domain":[26.31,88.67],"range":[628,548.5],"nice":false,"zero":false},"axis":null}}},
 {"data":{"name":"bars"},"mark":{"type":"line","strokeWidth":1.4,"color":"#f9d64a","invalid":"filter"},
  "encoding":{
   "x":{"field":"d","type":"temporal","scale":{"type":"utc","padding":0,"domain":[{"year":2021,"month":7,"date":1,"hours":21,"minutes":20,"utc":true},{"year":2024,"month":2,"date":15,"hours":23,"minutes":46,"utc":true}]},"axis":null},
   "y":{"field":"rsima","type":"quantitative","scale":{"domain":[26.31,88.67],"range":[628,548.5],"nice":false,"zero":false},"axis":null}}},
 {"data":{"name":"bars"},"mark":{"type":"line","strokeWidth":1.2,"color":"#7e57c2","invalid":"filter"},
  "encoding":{
   "x":{"field":"d","type":"temporal","scale":{"type":"utc","padding":0,"domain":[{"year":2021,"month":7,"date":1,"hours":21,"minutes":20,"utc":true},{"year":2024,"month":2,"date":15,"hours":23,"minutes":46,"utc":true}]},"axis":null},
   "y":{"field":"rsi","type":"quantitative","scale":{"domain":[26.31,88.67],"range":[628,548.5],"nice":false,"zero":false},"axis":null}}},
 {"data":{"values":[{}]},"mark":{"type":"text","align":"right","baseline":"middle","fontSize":12,"color":"#7e57c2","clip":true,"text":"75.30"},
  "encoding":{"x":{"datum":{"year":2021,"month":7,"date":19,"hours":3,"utc":true},"type":"temporal","axis":null},"y":{"datum":77.3,"type":"quantitative","axis":null}}},
 {"data":{"values":[{}]},"mark":{"type":"text","align":"left","baseline":"middle","fontSize":12,"color":"#f5c53f","clip":true,"text":"58.24"},
  "encoding":{"x":{"datum":{"year":2021,"month":7,"date":26,"hours":7,"utc":true},"type":"temporal","axis":null},"y":{"datum":77.3,"type":"quantitative","axis":null}}},
 {"data":{"values":[{}]},"mark":{"type":"text","align":"left","baseline":"middle","fontSize":12,"color":"#787b86","clip":true,"text":"∅"},
  "encoding":{"x":{"datum":{"year":2021,"month":8,"date":27,"hours":6,"utc":true},"type":"temporal","axis":null},"y":{"datum":77.3,"type":"quantitative","axis":null}}},
 {"data":{"values":[{}]},"mark":{"type":"text","align":"left","baseline":"middle","fontSize":12,"color":"#787b86","clip":true,"text":"∅"},
  "encoding":{"x":{"datum":{"year":2021,"month":9,"date":13,"hours":2,"utc":true},"type":"temporal","axis":null},"y":{"datum":77.3,"type":"quantitative","axis":null}}},
 {"data":{"name":"months"},"mark":{"type":"text","align":"center","baseline":"middle","fontSize":12,"color":"#787b86"},
  "encoding":{
   "x":{"field":"d","type":"temporal","scale":{"type":"utc","padding":0,"domain":[{"year":2021,"month":7,"date":1,"hours":21,"minutes":20,"utc":true},{"year":2024,"month":2,"date":15,"hours":23,"minutes":46,"utc":true}]},"axis":null},
   "y":{"datum":13.4,"type":"quantitative","axis":null},
   "text":{"field":"t"}}},
 {"data":{"name":"years"},"mark":{"type":"text","align":"center","baseline":"middle","fontSize":12,"fontWeight":"bold","color":"#131722"},
  "encoding":{
   "x":{"field":"d","type":"temporal","scale":{"type":"utc","padding":0,"domain":[{"year":2021,"month":7,"date":1,"hours":21,"minutes":20,"utc":true},{"year":2024,"month":2,"date":15,"hours":23,"minutes":46,"utc":true}]},"axis":null},
   "y":{"datum":13.4,"type":"quantitative","axis":null},
   "text":{"field":"t"}}},
 {"data":{"values":[{}]},"mark":{"type":"text","align":"left","baseline":"middle","fontSize":12,"color":"#787b86","text":"Jul"},
  "encoding":{"x":{"datum":{"year":2021,"month":7,"date":1,"hours":22,"utc":true},"type":"temporal","axis":null},"y":{"datum":13.4,"type":"quantitative","axis":null}}}
]}
],
"resolve":{"scale":{"y":"independent"}}
}
